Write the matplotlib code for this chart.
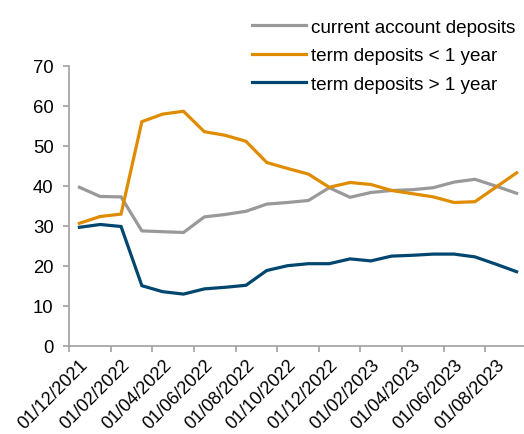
import matplotlib
matplotlib.use("Agg")
import matplotlib.pyplot as plt
import numpy as np

plt.rcParams['font.family'] = ['Liberation Sans', 'DejaVu Sans']

dates = ["01/12/2021", "01/01/2022", "01/02/2022", "01/03/2022", "01/04/2022", "01/05/2022",
         "01/06/2022", "01/07/2022", "01/08/2022", "01/09/2022", "01/10/2022", "01/11/2022",
         "01/12/2022", "01/01/2023", "01/02/2023", "01/03/2023", "01/04/2023", "01/05/2023",
         "01/06/2023", "01/07/2023", "01/08/2023", "01/09/2023"]
current_account = [39.6, 37.3, 37.2, 28.7, 28.5, 28.3, 32.2, 32.8, 33.6, 35.4, 35.8, 36.3,
                   39.5, 37.1, 38.3, 38.8, 39.0, 39.5, 40.9, 41.6, 39.9, 38.1]
term_lt1 = [30.6, 32.3, 32.9, 56.0, 57.9, 58.6, 53.5, 52.6, 51.1, 45.8, 44.3, 42.9,
            39.6, 40.8, 40.3, 38.8, 38.0, 37.2, 35.8, 36.0, 39.6, 43.2]
term_gt1 = [29.6, 30.3, 29.8, 15.0, 13.5, 12.9, 14.2, 14.6, 15.1, 18.8, 20.0, 20.5,
            20.5, 21.7, 21.2, 22.4, 22.6, 22.9, 22.9, 22.2, 20.4, 18.5]
series_labels = ["current account deposits", "term deposits < 1 year", "term deposits > 1 year"]
colors = ["#999999", "#DF8C00", "#00466E"]

fig = plt.figure(figsize=(5.24, 4.35), dpi=100)
ax = fig.add_axes([0.1317, 0.203, 0.874, 0.6437])

x = np.arange(len(dates))
for vals, lab, col in zip([current_account, term_lt1, term_gt1], series_labels, colors):
    ax.plot(x, vals, color=col, lw=2.3, label=lab, solid_joinstyle='miter')

ax.set_ylim(0, 70)
ax.set_yticks(np.arange(0, 71, 10))
ax.set_xlim(-0.5, len(dates) - 0.5)
ax.set_xticks(x[::2])
ax.set_xticklabels(dates[::2], rotation=45, ha='right', va='top', rotation_mode='anchor')
ax.set_xticks(np.arange(-0.5, len(dates), 2), minor=True)
ax.tick_params(axis='x', which='major', length=0, pad=7, labelsize=13.1)
ax.tick_params(axis='x', which='minor', length=4, color='#A0A0A0', width=1.2)
ax.tick_params(axis='y', length=4, color='#A0A0A0', width=1.2, labelsize=13.3, pad=7)

for s in ['top', 'right']:
    ax.spines[s].set_visible(False)
for s in ['left', 'bottom']:
    ax.spines[s].set_color('#A0A0A0')
    ax.spines[s].set_linewidth(1.2)

leg = fig.legend(loc='upper right', bbox_to_anchor=(1.005, 0.981), frameon=False,
                 fontsize=13.6, handlelength=2.85, handletextpad=0.25, labelspacing=0.6,
                 borderaxespad=0.2)

fig.savefig("out.png", dpi=100)
